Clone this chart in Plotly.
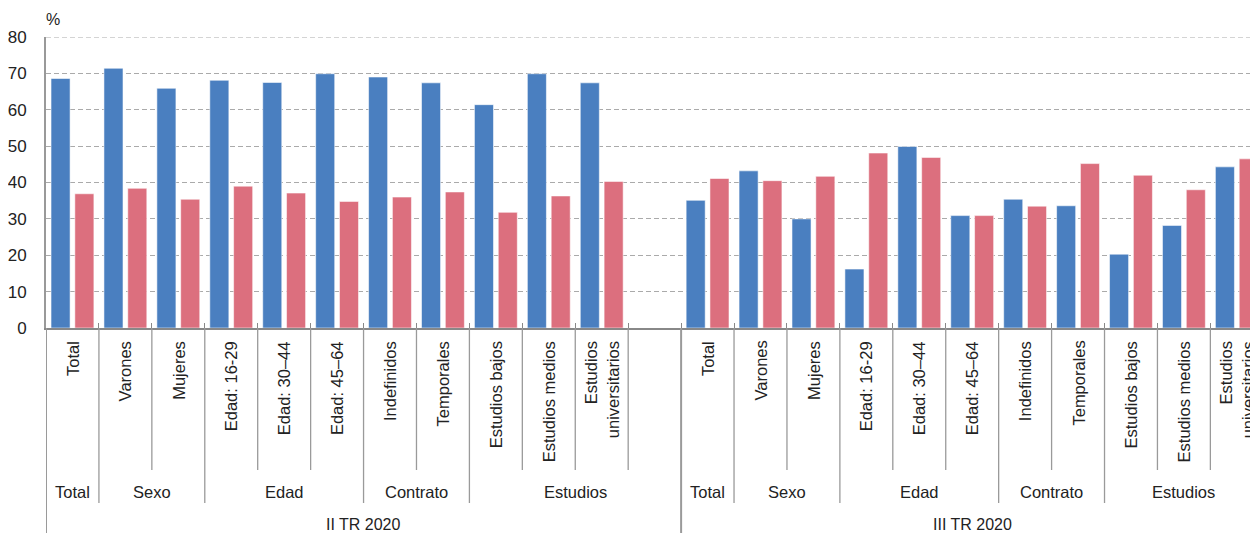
import plotly.graph_objects as go

# ---------------- data ----------------
categorias = ["Total", "Varones", "Mujeres", "Edad: 16-29", "Edad: 30–44", "Edad: 45–64",
              "Indefinidos", "Temporales", "Estudios bajos", "Estudios medios",
              "Estudios<br>universitarios"]
grupos = ["Total", "Sexo", "Sexo", "Edad", "Edad", "Edad", "Contrato", "Contrato",
          "Estudios", "Estudios", "Estudios"]
periodos = ["II TR 2020", "III TR 2020"]

azul_II = [68.6, 71.4, 65.9, 68.1, 67.5, 69.9, 69.0, 67.4, 61.4, 69.9, 67.4]
rojo_II = [36.9, 38.4, 35.4, 39.0, 37.1, 34.8, 36.0, 37.4, 31.8, 36.3, 40.3]
azul_III = [35.1, 43.2, 30.0, 16.2, 49.9, 30.9, 35.4, 33.6, 20.3, 28.2, 44.3]
rojo_III = [41.1, 40.5, 41.7, 48.1, 46.9, 30.9, 33.5, 45.2, 42.0, 38.0, 46.5]

Y_MAX = 80

AZUL = "#4a7fc0"
ROJO = "#dc6f7e"
FONT = "Liberation Sans, Arial, sans-serif"
TXT = "#222222"
SEP = "#9a9a9a"
GRID = "#aaaaaa"

# page body has an 8px margin; compensate so the plot sits where the reference has it
OFF = 8
W, H = 1258 - OFF, 533 - OFF
ML, MT, MB = 44 - OFF, 37 - OFF, 205
PLOT_BOTTOM = 328  # screen pixel of y = 0
PLOT_H = H - MT - MB

# ---------------- slots ----------------
slots = []
for p, (az, ro) in enumerate([(azul_II, rojo_II), (azul_III, rojo_III)]):
    for c, g, a, r in zip(categorias, grupos, az, ro):
        slots.append((p, g, c, a, r))
    if p == 0:
        slots.append((0, "Estudios", "", None, None))  # empty spacer slot

xs = list(range(len(slots)))
blue = [s[3] for s in slots]
red = [s[4] for s in slots]

fig = go.Figure()
fig.add_trace(go.Bar(x=xs, y=blue, name="serie 1", marker=dict(color=AZUL,
                     line=dict(color="rgba(255,255,255,0.55)", width=1))))
fig.add_trace(go.Bar(x=xs, y=red, name="serie 2", marker=dict(color=ROJO,
                     line=dict(color="rgba(255,255,255,0.55)", width=1))))

def py(pix):
    return (PLOT_BOTTOM - pix) / PLOT_H

annotations = []
shapes = []

# top gridline (at the edge of the plot area, which plotly omits)
shapes.append(dict(type="line", xref="paper", yref="y", x0=0, x1=1, y0=Y_MAX, y1=Y_MAX,
                   line=dict(color=GRID, width=1, dash="5px,3px"), layer="below"))

# category labels
for i, s in enumerate(slots):
    if s[2]:
        annotations.append(dict(x=i, y=py(339), xref="x", yref="paper", text=s[2],
                                textangle=-90, xanchor="center", yanchor="top",
                                align="right", showarrow=False,
                                font=dict(family=FONT, size=16.5, color=TXT)))

# separators
for b in range(len(slots)):
    xb = b - 0.5
    if b == 0 or slots[b - 1][0] != slots[b][0]:
        level = 3
    elif slots[b - 1][1] != slots[b][1]:
        level = 2
    else:
        level = 1
    y1 = {1: py(470), 2: py(503), 3: py(545)}[level]
    shapes.append(dict(type="line", xref="x", yref="paper", x0=xb, x1=xb, y0=0, y1=y1,
                       line=dict(color=SEP, width=1.3 if level < 3 else 2)))

# group labels
i = 0
while i < len(slots):
    j = i
    while j + 1 < len(slots) and slots[j + 1][0] == slots[i][0] and slots[j + 1][1] == slots[i][1]:
        j += 1
    annotations.append(dict(x=(i + j) / 2, y=py(492), xref="x", yref="paper", text=slots[i][1],
                            xanchor="center", yanchor="middle", showarrow=False,
                            font=dict(family=FONT, size=16.5, color=TXT)))
    i = j + 1

# period labels
for p, name in enumerate(periodos):
    idx = [k for k, s in enumerate(slots) if s[0] == p]
    annotations.append(dict(x=(idx[0] + idx[-1]) / 2, y=py(524), xref="x", yref="paper",
                            text=name, xanchor="center", yanchor="middle", showarrow=False,
                            font=dict(family=FONT, size=16, color=TXT)))

# % label
annotations.append(dict(x=0, y=py(19), xref="paper", yref="paper", text="%",
                        xanchor="left", yanchor="middle", showarrow=False, xshift=-2,
                        font=dict(family=FONT, size=16, color=TXT)))

fig.update_layout(
    width=W, height=H,
    margin=dict(l=ML, r=0, t=MT, b=MB, pad=0),
    paper_bgcolor="white", plot_bgcolor="white",
    barmode="group", bargap=0.1, bargroupgap=0.2,
    showlegend=False,
    font=dict(family=FONT, size=17, color=TXT),
    annotations=annotations, shapes=shapes,
    xaxis=dict(range=[-0.5, 22.4], tickvals=[k - 0.5 for k in range(len(slots) + 1)],
               showticklabels=False, ticks="inside", ticklen=5, tickcolor="#888",
               showline=True, linecolor="#888", linewidth=1.5, showgrid=False,
               zeroline=False),
    yaxis=dict(range=[0, Y_MAX], dtick=10, showgrid=True, gridcolor=GRID,
               griddash="5px,3px", gridwidth=1, showline=True, linecolor="#999999",
               linewidth=2, zeroline=False, ticks="", ticklabelstandoff=14,
               tickfont=dict(family=FONT, size=17, color=TXT)),
)

fig.write_html("out.html")
